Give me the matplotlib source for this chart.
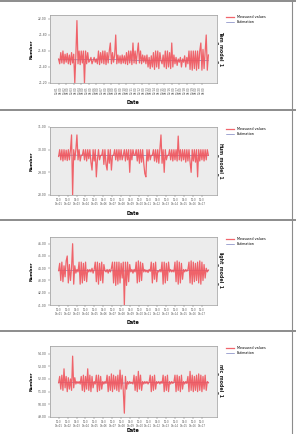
import numpy as np
import matplotlib
matplotlib.use("Agg")
import matplotlib.pyplot as plt
from matplotlib.lines import Line2D

# ---- data ----
tem_measured = [
    21.50, 21.44, 21.58, 21.45, 21.60, 21.44, 21.56, 21.46, 21.57, 21.44,
    21.55, 21.43, 21.58, 21.45, 21.56, 21.20, 21.55, 21.98, 21.44, 21.60,
    21.43, 21.60, 21.45, 21.60, 21.20, 21.60, 21.44, 21.58, 21.46, 21.48,
    21.52, 21.44, 21.48, 21.52, 21.46, 21.50, 21.44, 21.60, 21.43, 21.58,
    21.45, 21.60, 21.44, 21.60, 21.43, 21.58, 21.45, 21.60, 21.70, 21.44,
    21.58, 21.46, 21.55, 21.80, 21.44, 21.55, 21.45, 21.54, 21.44, 21.55,
    21.45, 21.54, 21.44, 21.58, 21.43, 21.60, 21.45, 21.60, 21.43, 21.70,
    21.45, 21.60, 21.44, 21.58, 21.70, 21.45, 21.60, 21.44, 21.55, 21.46,
    21.54, 21.44, 21.55, 21.40, 21.52, 21.38, 21.54, 21.40, 21.58, 21.37,
    21.60, 21.40, 21.60, 21.38, 21.58, 21.48, 21.44, 21.55, 21.40, 21.60,
    21.38, 21.60, 21.40, 21.58, 21.38, 21.70, 21.40, 21.55, 21.44, 21.52,
    21.42, 21.50, 21.46, 21.52, 21.40, 21.50, 21.46, 21.54, 21.40, 21.52,
    21.44, 21.60, 21.37, 21.60, 21.36, 21.60, 21.38, 21.60, 21.36, 21.60,
    21.38, 21.60, 21.70, 21.36, 21.62, 21.38, 21.60, 21.80, 21.36, 21.55,
]
hum_measured = [
    29.70, 30.00, 29.55, 30.00, 29.50, 30.00, 29.55, 29.98, 29.52, 30.00,
    29.55, 30.00, 30.65, 28.00, 30.00, 29.55, 30.00, 30.65, 29.55, 30.00,
    29.50, 29.75, 29.75, 30.00, 29.55, 30.00, 29.50, 30.00, 29.60, 30.00,
    29.45, 29.10, 30.00, 29.50, 30.00, 28.80, 29.55, 30.00, 29.55, 29.75,
    29.75, 30.00, 29.35, 30.00, 29.35, 29.10, 30.00, 29.40, 30.00, 29.10,
    29.75, 29.75, 30.00, 29.55, 30.00, 29.50, 30.00, 29.55, 30.00, 29.55,
    29.75, 30.00, 29.50, 30.00, 29.55, 30.00, 29.00, 30.00, 29.55, 30.00,
    29.75, 29.75, 30.00, 29.50, 30.00, 29.40, 30.00, 29.45, 30.00, 29.40,
    28.95, 28.80, 30.00, 29.50, 30.00, 29.55, 29.75, 29.75, 30.00, 29.50,
    30.00, 29.45, 30.00, 29.40, 30.00, 30.65, 29.40, 30.00, 29.00, 30.00,
    29.55, 29.75, 29.75, 30.00, 29.55, 30.00, 29.50, 30.00, 29.55, 30.00,
    29.50, 30.60, 29.55, 30.00, 29.50, 30.00, 29.55, 30.00, 29.45, 30.00,
    29.50, 30.00, 29.45, 29.00, 30.00, 29.50, 30.00, 29.45, 30.00, 28.80,
    30.00, 29.50, 30.00, 29.55, 30.00, 29.50, 30.00, 29.55, 30.00, 29.75,
]
light_measured = [
    43.80, 44.40, 43.00, 44.50, 42.90, 44.20, 43.30, 44.60, 45.00, 42.80,
    44.30, 43.00, 44.00, 46.00, 42.70, 44.20, 43.60, 43.90, 43.70, 44.50,
    42.70, 44.50, 42.80, 44.40, 43.00, 44.50, 42.90, 43.90, 43.70, 43.90,
    43.70, 44.00, 43.60, 43.90, 44.50, 42.90, 44.50, 42.70, 44.40, 43.00,
    44.50, 42.80, 44.30, 43.80, 43.70, 43.90, 43.60, 43.90, 43.70, 44.00,
    44.50, 42.80, 44.50, 42.60, 44.50, 42.70, 44.50, 42.80, 44.40, 43.20,
    44.50, 41.00, 44.50, 42.60, 44.50, 42.90, 44.30, 43.70, 43.90, 43.60,
    43.90, 43.70, 44.50, 42.80, 44.60, 42.90, 44.50, 43.00, 44.40, 43.70,
    43.90, 43.70, 43.85, 43.65, 43.90, 43.75, 44.50, 42.80, 44.40, 43.10,
    44.50, 42.90, 43.80, 43.70, 43.90, 43.70, 44.50, 42.70, 44.50, 42.80,
    44.40, 43.00, 44.50, 43.70, 43.90, 43.70, 43.85, 43.70, 44.50, 42.90,
    44.60, 42.70, 44.50, 42.80, 44.40, 43.10, 43.90, 43.70, 43.90, 43.75,
    43.90, 44.50, 42.80, 44.60, 42.70, 44.50, 42.90, 44.40, 43.00, 44.50,
    42.80, 44.60, 42.70, 44.50, 43.00, 44.30, 43.20, 44.00, 43.70, 43.85,
]
mic_measured = [
    51.70, 52.20, 51.20, 52.30, 51.10, 52.80, 51.30, 52.20, 51.00, 52.10,
    51.20, 52.00, 51.10, 53.80, 51.30, 52.10, 51.60, 51.80, 51.65, 51.80,
    51.60, 52.20, 51.10, 52.30, 51.00, 52.20, 51.20, 52.80, 51.10, 52.30,
    51.00, 52.20, 51.30, 51.80, 51.60, 52.30, 51.00, 52.30, 51.10, 52.20,
    51.20, 51.80, 51.60, 51.80, 51.65, 52.30, 51.00, 52.20, 51.10, 52.40,
    51.00, 52.30, 51.20, 52.20, 51.10, 52.30, 51.00, 52.70, 51.20, 52.30,
    51.10, 49.30, 52.20, 51.20, 51.80, 51.60, 51.80, 51.65, 51.75, 51.60,
    52.30, 51.10, 52.20, 51.00, 52.60, 51.20, 52.30, 51.10, 51.80, 51.60,
    51.80, 51.65, 51.80, 51.60, 51.75, 52.30, 51.00, 52.20, 51.10, 52.30,
    51.20, 51.80, 51.65, 51.80, 51.60, 51.80, 51.65, 52.30, 51.00, 52.20,
    51.10, 52.30, 51.00, 51.80, 51.60, 51.80, 51.65, 51.75, 52.30, 51.00,
    52.30, 51.10, 52.20, 51.00, 52.30, 51.20, 51.80, 51.60, 51.80, 51.65,
    52.20, 51.00, 52.60, 51.10, 52.30, 51.00, 52.20, 51.10, 52.30, 51.00,
    52.40, 51.10, 52.30, 51.00, 52.20, 51.20, 52.30, 51.10, 51.80, 51.70,
]

est_index = [0, 20, 40, 60, 80, 100, 120, 139]
tem_estimation = [21.49, 21.49, 21.50, 21.49, 21.48, 21.48, 21.48, 21.48]
hum_estimation = [29.75, 29.76, 29.75, 29.75, 29.74, 29.75, 29.75, 29.75]
light_estimation = [43.80, 43.82, 43.80, 43.78, 43.80, 43.80, 43.82, 43.80]
mic_estimation = [51.70, 51.72, 51.70, 51.68, 51.70, 51.72, 51.70, 51.70]

tem_yticks = [21.20, 21.40, 21.60, 21.80, 22.00]
hum_yticks = [28.00, 29.00, 30.00, 31.00]
light_yticks = [41.00, 42.00, 43.00, 44.00, 45.00, 46.00]
mic_yticks = [49.00, 50.00, 51.00, 52.00, 53.00, 54.00]

tem_xlabels = [f"12/{d:02d}\n08:00" for d in range(1, 21)]
other_xlabels = [f"{h}:0\nDec{d:02d}" for d, h in zip(range(1, 18), [10, 12, 14] * 6)]

model_names = ["Tem_model_1", "Hum_model_1", "light_model_1", "mic_model_1"]

# ---- figure ----
W, H = 296, 434
fig = plt.figure(figsize=(W / 100, H / 100), dpi=100)
fig.patch.set_facecolor("white")

RED = "#f0545c"
BLUE = "#5b64b0"

panels = [
    (tem_measured, tem_estimation, tem_yticks, (21.20, 22.05), 15, 83, tem_xlabels, 90),
    (hum_measured, hum_estimation, hum_yticks, (28.00, 31.0), 127, 195, other_xlabels, 0),
    (light_measured, light_estimation, light_yticks, (41.00, 46.55), 237, 305, other_xlabels, 0),
    (mic_measured, mic_estimation, mic_yticks, (49.00, 54.6), 346, 417, other_xlabels, 0),
]
date_y = [103, 213, 323, 431]
sep_y = [1, 110, 220, 331]

for i, (meas, est, yt, ylim, top, bot, xlabs, rot) in enumerate(panels):
    ax = fig.add_axes([50 / W, 1 - bot / H, 167 / W, (bot - top) / H])
    ax.set_facecolor("#ececec")
    x = np.arange(len(meas))
    ax.plot(est_index, est, color=BLUE, lw=0.4, label="Estimation", zorder=2)
    ax.plot(x, meas, color=RED, lw=0.9, alpha=0.9, label="Measured values", zorder=3)
    ax.set_xlim(-8, len(meas) + 7)
    ax.set_ylim(*ylim)
    ax.set_yticks(yt)
    ax.set_yticklabels([f"{v:.2f}" for v in yt], fontsize=2.2, color="#444")
    ticks = np.linspace(0, 133, len(xlabs))
    ax.set_xticks(ticks)
    ax.set_xticklabels(xlabs, fontsize=2.0 if rot else 1.8, rotation=rot,
                       color="#444", linespacing=0.9)
    ax.tick_params(length=1.2, width=0.3, pad=1, colors="#555")
    for s in ax.spines.values():
        s.set_color("#9a9a9a")
        s.set_linewidth(0.5)
    ax.set_ylabel("Number", fontsize=3.2, fontweight="bold", labelpad=3)
    ax2 = ax.twinx()
    ax2.set_yticks([])
    ax2.set_ylabel(model_names[i], fontsize=3.4, fontweight="bold", rotation=270,
                   labelpad=5, color="#222")
    for s in ax2.spines.values():
        s.set_visible(False)
    handles, labels = ax.get_legend_handles_labels()
    ax.legend(handles[::-1], labels[::-1], loc="upper left", bbox_to_anchor=(1.04, 1.03),
              fontsize=2.4, frameon=False, handlelength=2.5, borderpad=0.2,
              labelspacing=0.3)
    fig.text(133 / W, 1 - date_y[i] / H, "Date", fontsize=3.4, fontweight="bold",
             ha="center", va="center")

# panel frames
for y in sep_y:
    fig.add_artist(Line2D([0, 1], [1 - y / H, 1 - y / H], color="#8c8c8c", lw=1.4))
for y0, y1 in zip(sep_y, sep_y[1:] + [H]):
    fig.add_artist(Line2D([292 / W, 292 / W], [1 - y0 / H, 1 - y1 / H], color="#8c8c8c", lw=0.8))

fig.savefig("out.png", dpi=100)
